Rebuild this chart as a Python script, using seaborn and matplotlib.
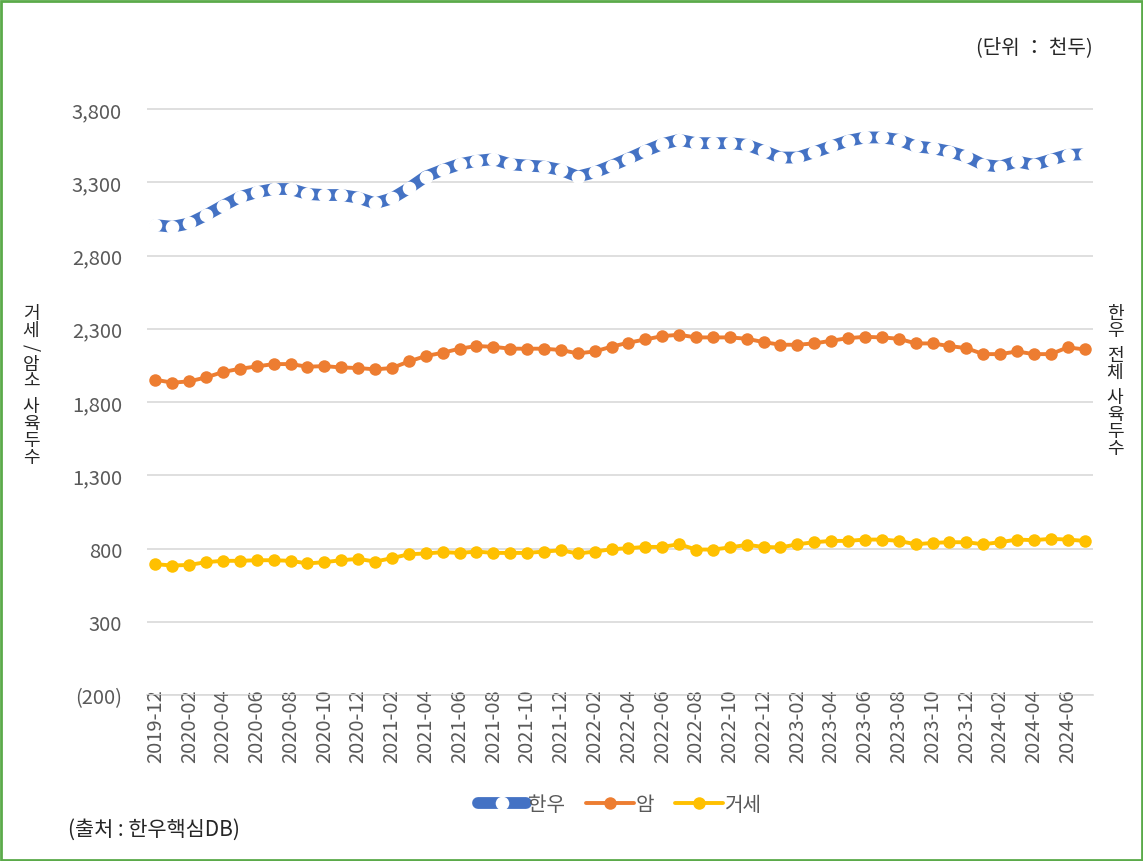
import numpy as np
import pandas as pd
import matplotlib
matplotlib.use("Agg")
import matplotlib.pyplot as plt
import seaborn as sns
from matplotlib.patches import Rectangle

months = pd.date_range("2019-12-01", "2024-07-01", freq="MS").strftime("%Y-%m").tolist()

hanwoo = [3008, 2996, 3019, 3076, 3140, 3199, 3232, 3254, 3254, 3220,
          3213, 3213, 3195, 3156, 3190, 3259, 3339, 3384, 3423, 3446,
          3458, 3423, 3414, 3407, 3384, 3339, 3368, 3413, 3462, 3514,
          3560, 3590, 3567, 3567, 3567, 3556, 3514, 3469, 3469, 3505,
          3545, 3583, 3606, 3606, 3590, 3545, 3533, 3510, 3476, 3419,
          3407, 3442, 3419, 3453, 3487, 3492]
cow = [1952, 1932, 1941, 1968, 2005, 2027, 2043, 2059, 2059, 2041,
       2045, 2036, 2032, 2023, 2032, 2077, 2114, 2136, 2164, 2182,
       2177, 2164, 2164, 2164, 2155, 2132, 2145, 2178, 2205, 2227,
       2250, 2259, 2241, 2241, 2241, 2232, 2209, 2191, 2191, 2200,
       2218, 2236, 2245, 2241, 2232, 2200, 2200, 2182, 2168, 2127,
       2127, 2145, 2127, 2127, 2173, 2159]
steer = [693, 684, 688, 707, 716, 716, 720, 720, 716, 698,
         707, 720, 729, 711, 734, 761, 766, 775, 770, 779,
         770, 770, 770, 779, 788, 766, 779, 795, 802, 811,
         811, 829, 793, 793, 807, 825, 811, 807, 829, 843,
         852, 852, 861, 861, 852, 829, 838, 843, 843, 829,
         843, 861, 857, 866, 861, 852]

yticks = list(range(-200, 3801, 500))
ytick_labels = ["(200)" if v < 0 else f"{v:,}" for v in yticks]

sns.set_theme(style="white")
plt.rcParams["font.family"] = ["Noto Sans CJK KR", "DejaVu Sans"]

df = pd.DataFrame({"month": months, "idx": np.arange(len(months)),
                   "한우": hanwoo, "암": cow, "거세": steer})

fig = plt.figure(figsize=(11.43, 8.62), dpi=100)
ax = fig.add_axes([147 / 1143, 1 - 696 / 862, (1093 - 147) / 1143, (696 - 100) / 862])

sns.lineplot(data=df, x="idx", y="한우", ax=ax, color="#4472C4", lw=8.5,
             marker="o", markersize=9.8, markerfacecolor="white",
             markeredgewidth=0, label="한우")
sns.lineplot(data=df, x="idx", y="암", ax=ax, color="#ED7D31", lw=2.8,
             marker="o", markersize=9, markeredgewidth=0, label="암")
sns.lineplot(data=df, x="idx", y="거세", ax=ax, color="#FFC000", lw=2.8,
             marker="o", markersize=9, markeredgewidth=0, label="거세")

ax.set_xlim(-0.5, len(months) - 0.5)
ax.set_ylim(-200, 3800 + 500 * 10 / 73)
ax.set_yticks(yticks)
ax.set_yticklabels(ytick_labels)
ax.set_xticks(np.arange(0, len(months), 2))
ax.set_xticklabels(months[::2], rotation=90)
ax.tick_params(axis="both", colors="#595959", labelsize=14.5, length=0)
ax.tick_params(axis="y", pad=18)
ax.tick_params(axis="x", pad=-5)
ax.yaxis.grid(True, color="#D9D9D9", lw=1.2)
ax.set_axisbelow(True)
for s in ["top", "right", "left"]:
    ax.spines[s].set_visible(False)
ax.spines["bottom"].set_color("#D9D9D9")
ax.spines["bottom"].set_linewidth(1.2)
ax.spines["bottom"].set_zorder(0.5)
ax.set_xlabel("")
ax.set_ylabel("")

ax.legend(loc="upper center", bbox_to_anchor=(0.5, -0.135), ncol=3, frameon=False,
          fontsize=14.5, handlelength=2.4, columnspacing=1.0, handletextpad=0.1,
          labelcolor="#595959")

fig.text(1093 / 1143, 1 - 48 / 862, "(단위 ： 천두)", ha="right", va="center", fontsize=14.5)
fig.text(68 / 1143, 1 - 830 / 862, "(출처 : 한우핵심DB)", ha="left", va="center", fontsize=15)


def stacked(x, y0, text):
    y = y0
    for ch in text:
        if ch == " ":
            y += 8
            continue
        fig.text(x / 1143, 1 - y / 862, ch, ha="center", va="center", fontsize=13,
                 rotation=-90 if ch == "/" else 0)
        y += 17


stacked(31, 314, "거세/암소 사육두수")
stacked(1115, 314, "한우 전체 사육두수")

fig.patches.append(Rectangle((0.001, 0.001), 0.998, 0.997, transform=fig.transFigure,
                             fill=False, edgecolor="#5BAA4A", lw=2))

fig.savefig("out.png", dpi=100)
